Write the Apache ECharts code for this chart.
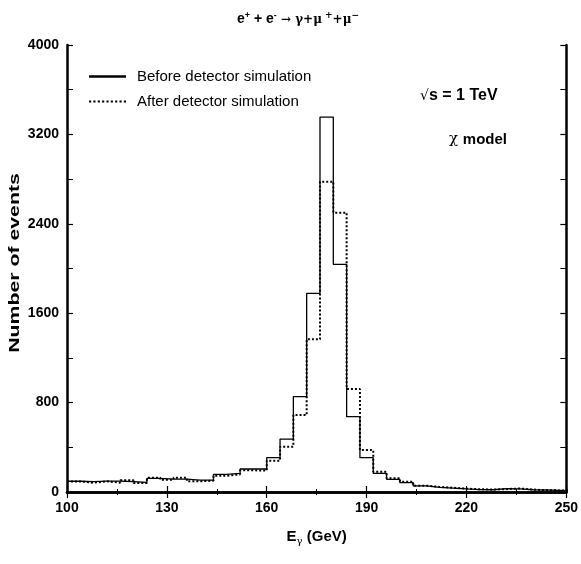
<!DOCTYPE html>
<html><head><meta charset="utf-8">
<script src="https://cdn.jsdelivr.net/npm/echarts@6/dist/echarts.min.js"></script>
<style>html,body{margin:0;padding:0;background:#fff}#c{width:581px;height:564px}</style>
</head><body><div id="c"></div>
<script>
// Histogram bins (GeV): first lower edge and width
const binStart = 100;
const binWidth = 4;
// Counts per bin, before detector simulation
const before = [96, 92, 98, 98, 92, 86, 122, 116, 116, 107, 107, 158, 167, 206, 206, 307, 474, 853, 1778, 3355, 2037, 674, 307, 167, 113, 83, 54, 42, 35, 28, 22, 20, 30, 28, 20, 18, 15, 10];
// Counts per bin, after detector simulation
const after = [95, 83, 96, 83, 106, 80, 128, 110, 128, 96, 101, 146, 158, 194, 191, 280, 406, 689, 1366, 2777, 2500, 922, 376, 182, 122, 92, 57, 45, 38, 30, 25, 22, 25, 32, 22, 16, 14, 12];
const xTicks = [100, 130, 160, 190, 220, 250];
const yTicks = [0, 800, 1600, 2400, 3200, 4000];

function steps(vals) {
  const pts = vals.map((v, i) => [binStart + i * binWidth, v]);
  pts.push([binStart + vals.length * binWidth, vals[vals.length - 1]]);
  return pts;
}
const FONT = 'Liberation Sans';
const chart = echarts.init(document.getElementById('c'));
const xCommon = {
  type: 'value', min: 100, max: 250, interval: 30,
  axisLine: { show: true, lineStyle: { color: '#000', width: 2.5 } },
  axisTick: { show: true, inside: true, length: 6, lineStyle: { color: '#000', width: 1.2 } },
  minorTick: { show: true, splitNumber: 2, length: 3, lineStyle: { color: '#000', width: 1 } },
  splitLine: { show: false }
};
const yCommon = {
  type: 'value', min: 0, max: 4000, interval: 800,
  axisLine: { show: true, lineStyle: { color: '#000', width: 2.5 } },
  axisTick: { show: true, inside: true, length: 6, lineStyle: { color: '#000', width: 1.2 } },
  minorTick: { show: true, splitNumber: 2, length: 6, lineStyle: { color: '#000', width: 1 } },
  splitLine: { show: false }
};
chart.setOption({
  animation: false,
  backgroundColor: '#fff',
  title: {
    left: 232, top: 6,
    text: '{b|e}{sup|+}{b| + e}{sup|-}{n| \u2192 \u03b3+\u03bc}{sup2| +}{n|+\u03bc}{sup2|\u2212}',
    textStyle: {
      rich: {
        b: { fontFamily: FONT, fontWeight: 'bold', fontSize: 14, color: '#000' },
        sup: { fontFamily: FONT, fontWeight: 'bold', fontSize: 9, color: '#000', verticalAlign: 'top', padding: [0, 0, 8, 0] },
        n: { fontFamily: 'DejaVu Serif', fontSize: 12, color: '#000' },
        sup2: { fontFamily: 'DejaVu Serif', fontSize: 9, color: '#000', verticalAlign: 'top', padding: [0, 0, 8, 0] }
      }
    }
  },
  legend: {
    orient: 'vertical', left: 84, top: 64, itemWidth: 37, itemHeight: 14, itemGap: 10,
    icon: 'none',
    textStyle: { fontFamily: FONT, fontSize: 15, color: '#000', padding: [0, 0, 0, 6] },
    data: [
      { name: 'Before detector simulation', icon: 'path://M0,0L37,0L37,2.5L0,2.5Z', itemStyle: { color: '#000' } },
      { name: 'After detector simulation', icon: 'path://M0,0L2,0L2,2L0,2Z M4,0L6,0L6,2L4,2Z M8,0L10,0L10,2L8,2Z M12,0L14,0L14,2L12,2Z M16,0L18,0L18,2L16,2Z M20,0L22,0L22,2L20,2Z M24,0L26,0L26,2L24,2Z M28,0L30,0L30,2L28,2Z M32,0L34,0L34,2L32,2Z', itemStyle: { color: '#000' } }
    ]
  },
  grid: { left: 67, right: 12, top: 45, bottom: 72, show: false },
  xAxis: [
    Object.assign({}, xCommon, {
      position: 'bottom',
      name: '{b|E}{sub|\u03b3}{b| (GeV)}', nameLocation: 'middle', nameGap: 36,
      nameTextStyle: { rich: {
        b: { fontFamily: FONT, fontWeight: 'bold', fontSize: 15, color: '#000' },
        sub: { fontFamily: 'DejaVu Serif', fontSize: 10, color: '#000', verticalAlign: 'bottom', padding: [8, 0, 0, 0] }
      } },
      axisLabel: { show: true, margin: 9, fontFamily: FONT, fontWeight: 'bold', fontSize: 14, color: '#000',
        formatter: v => xTicks.includes(v) ? String(v) : '' }
    }),
    Object.assign({}, xCommon, { position: 'top', axisLabel: { show: false } })
  ],
  yAxis: [
    Object.assign({}, yCommon, {
      position: 'left',
      axisLabel: { show: true, margin: 8, fontFamily: FONT, fontWeight: 'bold', fontSize: 14, color: '#000',
        formatter: v => yTicks.includes(v) ? String(v) : '' }
    }),
    Object.assign({}, yCommon, { position: 'right', axisLabel: { show: false } })
  ],
  graphic: [
    { type: 'text', x: 15, y: 263, rotation: Math.PI / 2, scaleX: 1.52,
      style: { text: 'Number of events', fontFamily: FONT, fontWeight: 'bold', fontSize: 14, fill: '#000',
        align: 'center', verticalAlign: 'middle' } },
    { type: 'text', left: 420, top: 88, style: { text: '{n|\u221a}{b|s = 1 TeV}', rich: {
      n: { fontFamily: 'DejaVu Sans', fontSize: 14, fill: '#000' },
      b: { fontFamily: FONT, fontWeight: 'bold', fontSize: 16, fill: '#000' } } } },
    { type: 'text', left: 449, top: 132, style: { text: '{n|\u03c7 }{b|model}', rich: {
      n: { fontFamily: 'DejaVu Serif', fontSize: 15, fill: '#000' },
      b: { fontFamily: FONT, fontWeight: 'bold', fontSize: 15, fill: '#000' } } } }
  ],
  series: [
    { name: 'Before detector simulation', type: 'line', step: 'end', data: steps(before), symbol: 'none',
      clip: true, lineStyle: { color: '#000', width: 1.3 }, z: 3 },
    { name: 'After detector simulation', type: 'line', step: 'end', data: steps(after), symbol: 'none',
      clip: true, lineStyle: { color: '#000', width: 2, type: [2, 2] }, z: 4 }
  ]
});
</script></body></html>
